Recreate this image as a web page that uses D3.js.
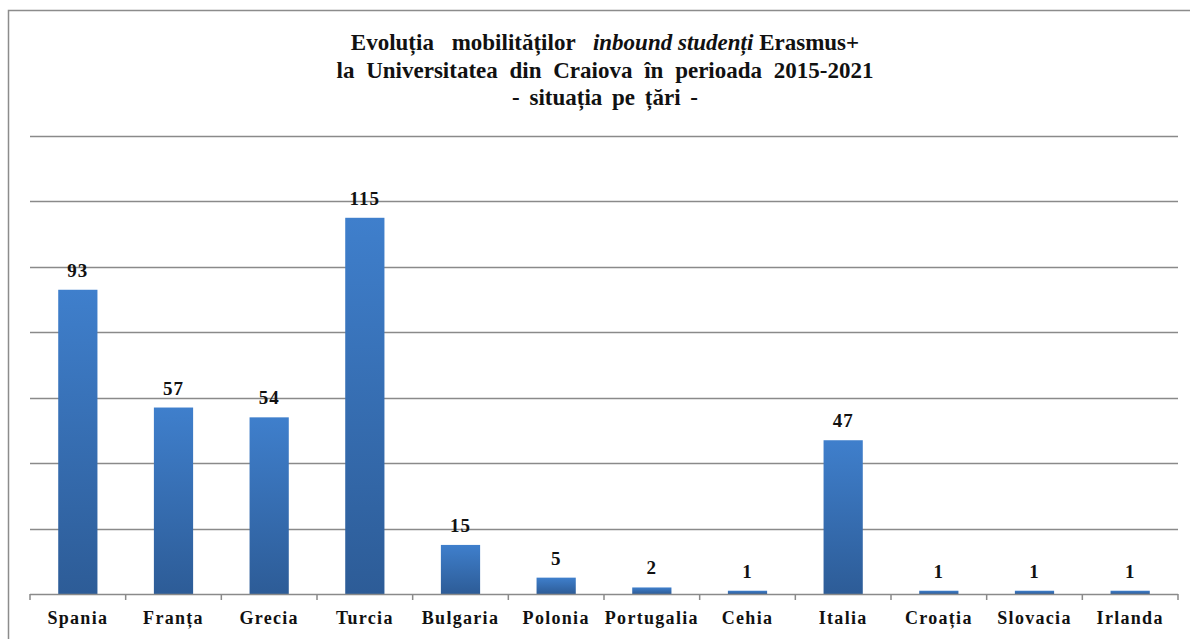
<!DOCTYPE html>
<html>
<head>
<meta charset="utf-8">
<script src="https://cdn.jsdelivr.net/npm/d3@7"></script>
<style>
  body { margin: 0; background: #fff; }
  svg text { font-family: "Liberation Serif", "Times New Roman", serif; font-weight: bold; fill: #111; }
</style>
</head>
<body>
<div id="chart"></div>
<script>
var tari = ["Spania", "Franța", "Grecia", "Turcia", "Bulgaria", "Polonia", "Portugalia", "Cehia", "Italia", "Croația", "Slovacia", "Irlanda"];
var studenti = [93, 57, 54, 115, 15, 5, 2, 1, 47, 1, 1, 1];
var grila = [20, 40, 60, 80, 100, 120, 140];

var totalWidth = 1190, totalHeight = 639,
    margin = {top: 136, right: 12, bottom: 45, left: 30},
    width = totalWidth - margin.left - margin.right,
    height = totalHeight - margin.top - margin.bottom;

var svg = d3.select("#chart").append("svg")
    .attr("width", totalWidth)
    .attr("height", totalHeight);

// chenar
svg.append("rect")
    .attr("x", 8.5).attr("y", 10.5)
    .attr("width", totalWidth).attr("height", totalHeight)
    .attr("fill", "none")
    .attr("stroke", "#8c8c8c")
    .attr("stroke-width", 1.5);

var defs = svg.append("defs");
var grad = defs.append("linearGradient")
    .attr("id", "bara")
    .attr("x1", 0).attr("y1", 0).attr("x2", 0).attr("y2", 1);
grad.append("stop").attr("offset", "0%").attr("stop-color", "#3f7fcc");
grad.append("stop").attr("offset", "100%").attr("stop-color", "#2d5c97");

var x = d3.scaleBand().domain(tari).range([0, width]).paddingInner(0.59).paddingOuter(0.295),
    xb = d3.scaleBand().domain(tari).range([0, width]),
    y = d3.scaleLinear().domain([0, 140]).range([height, 0]);

var g = svg.append("g")
    .attr("transform", "translate(" + margin.left + "," + margin.top + ")");

// linii de grila
g.selectAll(".grila")
    .data(grila)
    .join("line")
    .attr("x1", 0).attr("x2", width)
    .attr("y1", function(d) { return Math.round(y(d)) + 0.5; })
    .attr("y2", function(d) { return Math.round(y(d)) + 0.5; })
    .attr("stroke", "#8a8a8a")
    .attr("stroke-width", 1.5);

// bare
g.selectAll(".bara")
    .data(tari)
    .join("rect")
    .attr("x", function(d) { return x(d); })
    .attr("width", x.bandwidth())
    .attr("y", function(d, i) { return y(studenti[i]); })
    .attr("height", function(d, i) { return height - y(studenti[i]); })
    .attr("fill", "url(#bara)");

// etichete valori
g.selectAll(".valoare")
    .data(tari)
    .join("text")
    .attr("x", function(d) { return x(d) + x.bandwidth() / 2; })
    .attr("y", function(d, i) { return y(studenti[i]) - 13; })
    .attr("text-anchor", "middle")
    .style("font-size", "19px")
    .style("letter-spacing", "1px")
    .text(function(d, i) { return studenti[i]; });

// axa X
g.append("line")
    .attr("x1", 0).attr("x2", width)
    .attr("y1", height + 0.5).attr("y2", height + 0.5)
    .attr("stroke", "#8a8a8a").attr("stroke-width", 1.5);
g.selectAll(".tick")
    .data(tari.concat(["end"]))
    .join("line")
    .attr("x1", function(d, i) { return i < tari.length ? xb(d) : width; })
    .attr("x2", function(d, i) { return i < tari.length ? xb(d) : width; })
    .attr("y1", height).attr("y2", height + 6)
    .attr("stroke", "#8a8a8a").attr("stroke-width", 1.5);
g.selectAll(".categorie")
    .data(tari)
    .join("text")
    .attr("x", function(d) { return xb(d) + xb.bandwidth() / 2; })
    .attr("y", height + 30)
    .attr("text-anchor", "middle")
    .style("font-size", "18px")
    .style("letter-spacing", "1.3px")
    .text(function(d) { return d; });

// titlu
var titlu = svg.append("text")
    .attr("x", 605)
    .attr("text-anchor", "middle")
    .style("font-size", "23px");
var l1 = titlu.append("tspan").attr("x", 605).attr("y", 50);
l1.append("tspan").style("word-spacing", "12px").text("Evoluția mobilităților ");
l1.append("tspan").style("font-style", "italic").text("inbound studenți");
l1.append("tspan").text(" Erasmus+");
titlu.append("tspan").attr("x", 605).attr("y", 78).style("word-spacing", "6px")
    .text("la Universitatea din Craiova în perioada 2015-2021");
titlu.append("tspan").attr("x", 605).attr("y", 105).style("word-spacing", "4px")
    .text("- situația pe țări -");
</script>
</body>
</html>
